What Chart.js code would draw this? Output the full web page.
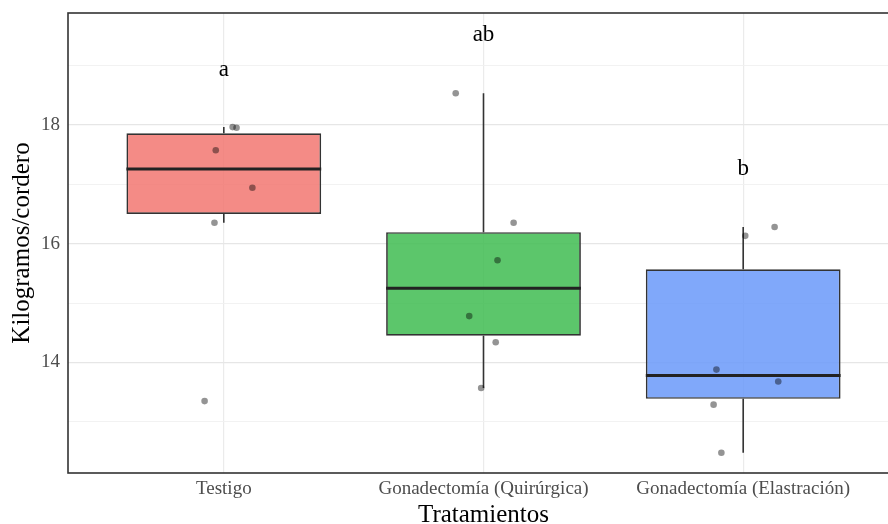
<!DOCTYPE html>
<html>
<head>
<meta charset="utf-8">
<script src="https://cdn.jsdelivr.net/npm/chart.js@4.4.1/dist/chart.umd.min.js"></script>
<style>
  html, body { margin: 0; padding: 0; overflow: hidden; background: #ffffff; }
  #wrap { position: relative; width: 903px; height: 524px; }
</style>
</head>
<body>
<div id="wrap"><canvas id="chart"></canvas></div>
<script>
// Treatment groups
const categories = ['Testigo', 'Gonadectomía (Quirúrgica)', 'Gonadectomía (Elastración)'];

// Weight per lamb (kg), one value per animal
const testigo     = [17.96, 17.95, 17.57, 16.94, 16.35, 13.35];
const quirurgica  = [18.53, 16.35, 15.72, 14.78, 14.34, 13.57];
const elastracion = [16.28, 16.13, 13.88, 13.68, 13.29, 12.48];

// Horizontal jitter of each animal's dot (in category units)
const jitterTestigo     = [0.034, 0.049, -0.031, 0.110, -0.036, -0.074];
const jitterQuirurgica  = [-0.107, 0.116, 0.054, -0.055, 0.047, -0.009];
const jitterElastracion = [0.121, 0.008, -0.103, 0.135, -0.114, -0.084];

// Significance letters and the height at which they are written
const letters = ['a', 'ab', 'b'];
const letterY = [18.92, 19.51, 17.25];

// Axis limits
const yMin = 12.14;
const yMax = 19.88;

const groups = [testigo, quirurgica, elastracion];
const jitters = [jitterTestigo, jitterQuirurgica, jitterElastracion];

const FONT = '"Liberation Serif", "DejaVu Serif", serif';
const boxFill = ['rgba(242,119,113,0.85)', 'rgba(63,188,81,0.85)', 'rgba(106,153,249,0.85)'];

// Tukey box statistics (quantile type 7)
function quantile(sorted, p) {
  const h = (sorted.length - 1) * p;
  const lo = Math.floor(h);
  const hi = Math.min(lo + 1, sorted.length - 1);
  return sorted[lo] + (h - lo) * (sorted[hi] - sorted[lo]);
}
function boxStats(values) {
  const s = [...values].sort((a, b) => a - b);
  const q1 = quantile(s, 0.25), med = quantile(s, 0.5), q3 = quantile(s, 0.75);
  const iqr = q3 - q1;
  const lo = Math.min(...s.filter(v => v >= q1 - 1.5 * iqr));
  const hi = Math.max(...s.filter(v => v <= q3 + 1.5 * iqr));
  return { q1, med, q3, lo, hi };
}
const stats = groups.map(boxStats);

const boxData = stats.map((st, i) => ({ x: i + 1, y: [st.q1, st.q3] }));
const pointData = [];
groups.forEach((vals, i) => {
  vals.forEach((v, j) => pointData.push({ x: i + 1 + jitters[i][j], y: v }));
});

const boxExtras = {
  id: 'boxExtras',
  beforeDatasetsDraw(chart) {
    const { ctx, scales: { x, y } } = chart;
    ctx.save();
    ctx.strokeStyle = '#333333';
    ctx.lineWidth = 1.6;
    stats.forEach((st, i) => {
      const px = x.getPixelForValue(i + 1);
      ctx.beginPath();
      ctx.moveTo(px, y.getPixelForValue(st.q3));
      ctx.lineTo(px, y.getPixelForValue(st.hi));
      ctx.moveTo(px, y.getPixelForValue(st.q1));
      ctx.lineTo(px, y.getPixelForValue(st.lo));
      ctx.stroke();
    });
    ctx.restore();
  },
  afterDatasetDraw(chart, args) {
    if (args.index !== 0) return;
    const { ctx, scales: { y } } = chart;
    const bars = chart.getDatasetMeta(0).data;
    ctx.save();
    ctx.strokeStyle = '#222222';
    ctx.lineWidth = 3;
    stats.forEach((st, i) => {
      const b = bars[i];
      const py = y.getPixelForValue(st.med);
      ctx.beginPath();
      ctx.moveTo(b.x - b.width / 2, py);
      ctx.lineTo(b.x + b.width / 2, py);
      ctx.stroke();
    });
    ctx.restore();
  },
  afterDatasetsDraw(chart) {
    const { ctx, scales: { x, y } } = chart;
    ctx.save();
    ctx.fillStyle = '#000000';
    ctx.font = '23px ' + FONT;
    ctx.textAlign = 'center';
    ctx.textBaseline = 'middle';
    letters.forEach((t, i) => {
      ctx.fillText(t, x.getPixelForValue(i + 1), y.getPixelForValue(letterY[i]));
    });
    ctx.restore();
  },
  afterDraw(chart) {
    const { ctx, chartArea: a } = chart;
    ctx.save();
    ctx.strokeStyle = '#333333';
    ctx.lineWidth = 1.6;
    ctx.strokeRect(a.left, a.top, a.right - a.left, a.bottom - a.top);
    ctx.restore();
  }
};

new Chart(document.getElementById('chart'), {
  type: 'bar',
  data: {
    datasets: [
      {
        type: 'bar',
        data: boxData,
        backgroundColor: boxFill,
        borderColor: '#333333',
        borderWidth: 1.7,
        borderSkipped: false,
        barPercentage: 0.75,
        categoryPercentage: 1.0,
        order: 2
      },
      {
        type: 'scatter',
        data: pointData,
        backgroundColor: 'rgba(0,0,0,0.42)',
        borderWidth: 0,
        pointRadius: 3.3,
        order: 1
      }
    ]
  },
  options: {
    responsive: true,
    maintainAspectRatio: false,
    animation: false,
    layout: { padding: { top: 13, left: 0, right: 0, bottom: 0 } },
    plugins: { legend: { display: false }, tooltip: { enabled: false } },
    scales: {
      x: {
        type: 'linear',
        min: 0.4,
        max: 3.6,
        offset: false,
        afterBuildTicks: s => { s.ticks = categories.map((_, i) => ({ value: i + 1 })); },
        afterFit: s => { s.height = 51; s.paddingLeft = 0; s.paddingRight = 0; },
        ticks: {
          autoSkip: false,
          maxRotation: 0,
          padding: 5,
          color: '#4d4d4d',
          font: { family: FONT, size: 19 },
          callback: v => categories[Math.round(v) - 1]
        },
        grid: { color: '#ebebeb', lineWidth: 1.2, drawTicks: false, offset: false },
        border: { display: false },
        title: {
          display: true,
          text: 'Tratamientos',
          color: '#000000',
          font: { family: FONT, size: 25, lineHeight: 0.7 },
          padding: 0
        }
      },
      y: {
        min: yMin,
        max: yMax,
        afterFit: s => { s.width = 68; s.paddingTop = 0; s.paddingBottom = 0; },
        ticks: {
          stepSize: 1,
          includeBounds: false,
          padding: 8,
          color: '#4d4d4d',
          font: { family: FONT, size: 19 },
          callback: v => (v % 2 === 0 ? v : '')
        },
        grid: {
          drawTicks: false,
          color: c => (c.tick && c.tick.value % 2 === 0 ? '#e6e6e6' : '#f0f0f0'),
          lineWidth: c => (c.tick && c.tick.value % 2 === 0 ? 1.2 : 0.9)
        },
        border: { display: false },
        title: {
          display: true,
          text: 'Kilogramos/cordero',
          color: '#000000',
          font: { family: FONT, size: 25, lineHeight: 1 },
          padding: { top: 10, bottom: 0 }
        }
      }
    }
  },
  plugins: [boxExtras]
});
</script>
</body>
</html>
